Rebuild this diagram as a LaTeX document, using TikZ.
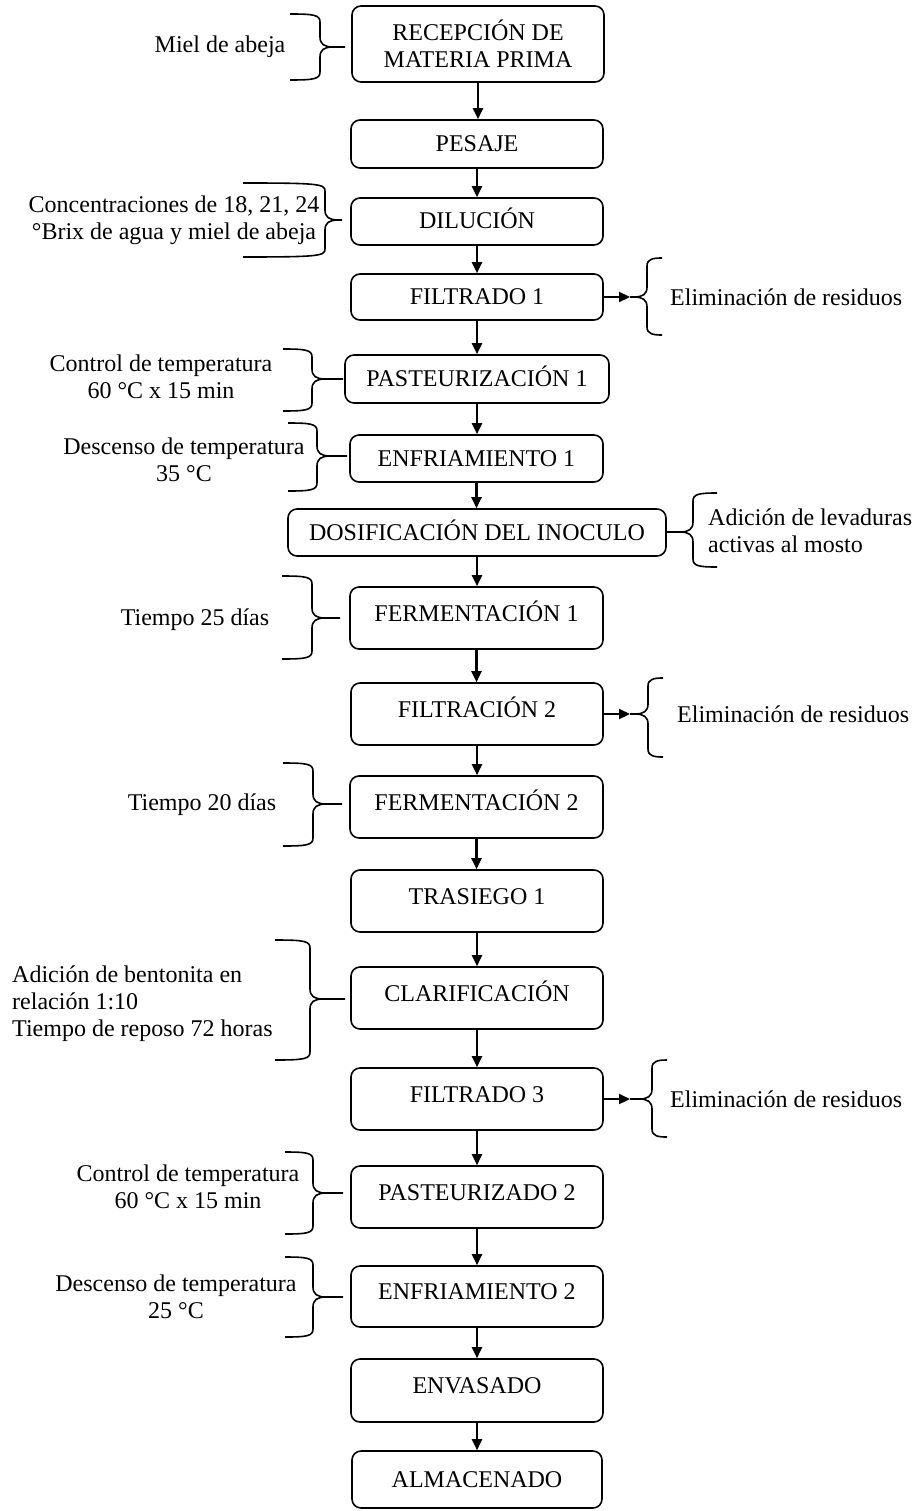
\documentclass[tikz,border=0pt]{standalone}
\usepackage{fontspec}
\setmainfont{Liberation Serif}
\usetikzlibrary{arrows.meta}
\newcommand{\fs}{\fontsize{24}{27}\selectfont}
\newcommand{\closebr}[6]{\draw[brc] (#1,#4) .. controls (#2-6,#4) and (#2,#4+1) .. (#2,#4+8) -- (#2,#5-10) .. controls (#2,#5-3) and (#2+4,#5) .. (#2+13,#5) -- (#3,#5) (#2+13,#5) .. controls (#2+4,#5) and (#2,#5+3) .. (#2,#5+10) -- (#2,#6-8) .. controls (#2,#6-1) and (#2-6,#6) .. (#1,#6);}
\newcommand{\openbr}[6]{\draw[brc] (#1,#4) .. controls (#2+6,#4) and (#2,#4+1) .. (#2,#4+8) -- (#2,#5-10) .. controls (#2,#5-3) and (#2-4,#5) .. (#2-13,#5) -- (#3,#5) (#2-13,#5) .. controls (#2-4,#5) and (#2,#5+3) .. (#2,#5+10) -- (#2,#6-8) .. controls (#2,#6-1) and (#2+6,#6) .. (#1,#6);}
\begin{document}
\begin{tikzpicture}[x=1pt,y=-1pt,
  proc/.style={draw, line width=1.6pt, rounded corners=9pt, inner sep=0pt, font=\fs, align=center},
  short/.style={text height=16pt, text depth=1pt},
  tall/.style={text height=16pt, text depth=10pt},
  lbl/.style={inner sep=0pt, font=\fs, align=center},
  arr/.style={line width=2.2pt, -{Triangle[length=11pt,width=10pt]}},
  brc/.style={line width=1.6pt}]
\useasboundingbox (0,0) rectangle (919,1511);
% process boxes
\node[proc, minimum width=252pt, minimum height=76pt] (rec) at (478,44) {RECEPCIÓN DE\\MATERIA PRIMA};
\node[proc, short, minimum width=252pt, minimum height=48pt] (pes) at (477,144) {PESAJE};
\node[proc, short, minimum width=252pt, minimum height=47pt] (dil) at (477,221.5) {DILUCIÓN};
\node[proc, short, minimum width=252pt, minimum height=46pt] (fa) at (477,297) {FILTRADO 1};
\node[proc, short, minimum width=264pt, minimum height=48pt] (pa) at (477,379) {PASTEURIZACIÓN 1};
\node[proc, short, minimum width=253pt, minimum height=47pt] (ea) at (476.5,458.5) {ENFRIAMIENTO 1};
\node[proc, short, minimum width=378pt, minimum height=47pt] (dos) at (477,532.5) {DOSIFICACIÓN DEL INOCULO};
\node[proc, tall, minimum width=253pt, minimum height=62pt] (fma) at (476.5,618) {FERMENTACIÓN 1};
\node[proc, tall, minimum width=252pt, minimum height=62pt] (fb) at (477,714) {FILTRACIÓN 2};
\node[proc, tall, minimum width=253pt, minimum height=62pt] (fmb) at (476.5,807) {FERMENTACIÓN 2};
\node[proc, tall, minimum width=252pt, minimum height=62pt] (tr) at (477,901) {TRASIEGO 1};
\node[proc, tall, minimum width=252pt, minimum height=62pt] (cl) at (477,998) {CLARIFICACIÓN};
\node[proc, tall, minimum width=252pt, minimum height=62pt] (fc) at (477,1099) {FILTRADO 3};
\node[proc, tall, minimum width=252pt, minimum height=62pt] (pb) at (477,1197) {PASTEURIZADO 2};
\node[proc, tall, minimum width=252pt, minimum height=61pt] (eb) at (477,1296.5) {ENFRIAMIENTO 2};
\node[proc, tall, minimum width=252pt, minimum height=63pt] (env) at (477,1390.5) {ENVASADO};
\node[proc, short, minimum width=250pt, minimum height=57pt] (alm) at (477,1479.5) {ALMACENADO};
% vertical arrows
\foreach \a/\b in {rec/pes, pes/dil, dil/fa, fa/pa, pa/ea, ea/dos, dos/fma, fma/fb, fb/fmb, fmb/tr, tr/cl, cl/fc, fc/pb, pb/eb, eb/env, env/alm}
  \draw[arr] (\a.south) -- (\a.south |- \b.north);
% left labels and braces
\node[lbl] (tmiel) at (220,47) {Miel de abeja};
\closebr{290}{320}{345}{14}{47}{80}
\node[lbl] (tdil) at (174,220) {Concentraciones de 18, 21, 24\\°Brix de agua y miel de abeja};
\closebr{243}{325}{342}{183}{220}{257}
\node[lbl] (tpa) at (161,376.5) {Control de temperatura\\60 °C x 15 min};
\closebr{283}{312}{343}{349}{379}{411}
\node[lbl] (tea) at (184,460) {Descenso de temperatura\\35 °C};
\closebr{288}{317}{347}{423}{456}{491}
\node[lbl] (tfma) at (195,620) {Tiempo 25 días};
\closebr{282}{312}{340}{576}{618}{659}
\node[lbl] (tfmb) at (202,805) {Tiempo 20 días};
\closebr{283}{313}{342}{763}{804}{846}
\node[lbl, align=left, anchor=west] (tcl) at (12,1004) {Adición de bentonita en\\relación 1:10\\Tiempo de reposo 72 horas};
\closebr{275}{310}{345}{940}{999}{1060}
\node[lbl] (tpb) at (188,1186.5) {Control de temperatura\\60 °C x 15 min};
\closebr{285}{313}{343}{1152}{1193}{1234}
\node[lbl] (teb) at (176,1296.5) {Descenso de temperatura\\25 °C};
\closebr{285}{313}{343}{1257}{1297}{1337}
% right side
\coordinate (ra) at (630,297);
\draw[arr] (fa.east) -- (ra);
\openbr{662}{647}{630}{258}{297}{335}
\node[lbl, anchor=west] (tra) at (670,297) {Eliminación de residuos};
\coordinate (rb) at (630,714);
\draw[arr] (fb.east) -- (rb);
\openbr{663}{648}{630}{678}{714}{757}
\node[lbl, anchor=west] (trb) at (677,714) {Eliminación de residuos};
\coordinate (rc) at (630,1099);
\draw[arr] (fc.east) -- (rc);
\openbr{667}{652}{630}{1060}{1099}{1137}
\node[lbl, anchor=west] (trc) at (670,1099) {Eliminación de residuos};
\openbr{717}{693}{666}{493}{532}{567}
\node[lbl, align=left, anchor=west] (tdos) at (708,531) {Adición de levaduras\\activas al mosto};
\end{tikzpicture}
\end{document}
